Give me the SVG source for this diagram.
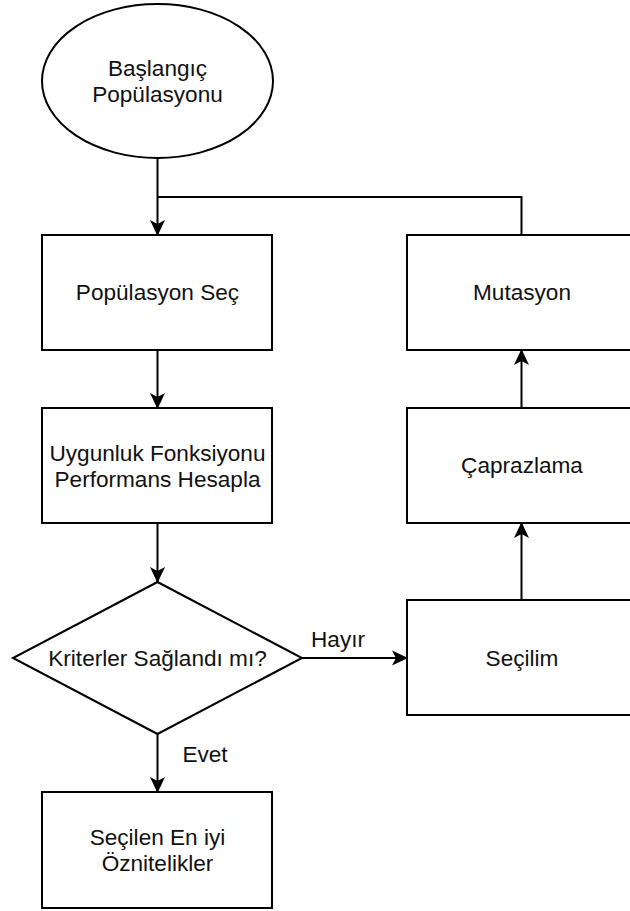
<svg xmlns="http://www.w3.org/2000/svg" width="630" height="911" viewBox="0 0 630 911">
  <style>
    .shape { fill: #ffffff; stroke: #000000; stroke-width: 2; }
    .edge { fill: none; stroke: #000000; stroke-width: 2; }
    text { font-family: "Liberation Sans", Arial, Helvetica, sans-serif; font-size: 22.6px; fill: #111111; text-anchor: middle; }
  </style>
  <defs>
    <marker id="arrow" viewBox="0 0 16 16" refX="15" refY="8" markerWidth="16" markerHeight="16" markerUnits="userSpaceOnUse" orient="auto">
      <path d="M0,0.5 L16,8 L0,15.5 L4,8 Z" fill="#000000"/>
    </marker>
  </defs>

  <g id="edges">
    <path class="edge" d="M157.5,158 L157.5,235" marker-end="url(#arrow)"/>
    <path class="edge" d="M521.5,235 L521.5,197 L157.5,197"/>
    <path class="edge" d="M157.5,350 L157.5,408" marker-end="url(#arrow)"/>
    <path class="edge" d="M157.5,523 L157.5,582" marker-end="url(#arrow)"/>
    <path class="edge" d="M302,658 L407,658" marker-end="url(#arrow)"/>
    <path class="edge" d="M157.5,734 L157.5,792" marker-end="url(#arrow)"/>
    <path class="edge" d="M521.5,600 L521.5,523" marker-end="url(#arrow)"/>
    <path class="edge" d="M521.5,408 L521.5,350" marker-end="url(#arrow)"/>
    <text x="338" y="647">Hayır</text>
    <text x="205" y="762">Evet</text>
  </g>

  <g id="start">
    <ellipse class="shape" cx="157.5" cy="81" rx="115.5" ry="77"/>
    <text x="157.5" y="76">Başlangıç</text>
    <text x="157.5" y="102">Popülasyonu</text>
  </g>

  <g id="select-population">
    <rect class="shape" x="42" y="235" width="230" height="115"/>
    <text x="157.5" y="300">Popülasyon Seç</text>
  </g>

  <g id="fitness">
    <rect class="shape" x="42" y="408" width="230" height="115"/>
    <text x="157.5" y="460.5">Uygunluk Fonksiyonu</text>
    <text x="157.5" y="486.5">Performans Hesapla</text>
  </g>

  <g id="criteria">
    <polygon class="shape" points="157.5,582 302,658 157.5,734 13,658"/>
    <text x="157.5" y="666">Kriterler Sağlandı mı?</text>
  </g>

  <g id="result">
    <rect class="shape" x="42" y="792" width="230" height="116"/>
    <text x="157.5" y="845">Seçilen En iyi</text>
    <text x="157.5" y="871">Öznitelikler</text>
  </g>

  <g id="selection">
    <rect class="shape" x="407" y="600" width="230" height="115"/>
    <text x="522" y="666">Seçilim</text>
  </g>

  <g id="crossover">
    <rect class="shape" x="407" y="408" width="230" height="115"/>
    <text x="522" y="473">Çaprazlama</text>
  </g>

  <g id="mutation">
    <rect class="shape" x="407" y="235" width="230" height="115"/>
    <text x="522" y="300">Mutasyon</text>
  </g>
</svg>
